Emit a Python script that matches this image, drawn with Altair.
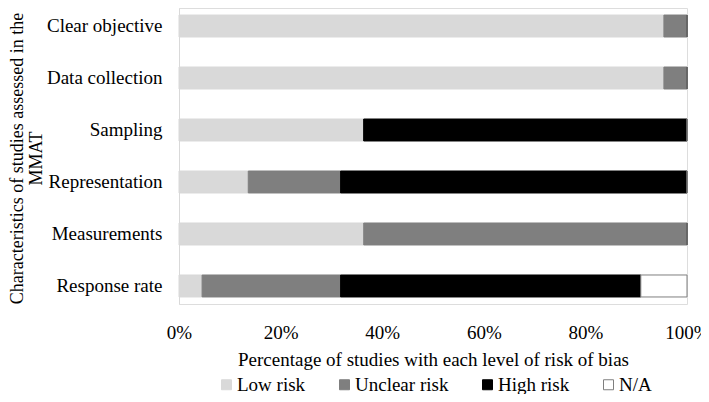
import altair as alt
import pandas as pd

categories = ["Clear objective", "Data collection", "Sampling", "Representation", "Measurements", "Response rate"]
levels = ["Low risk", "Unclear risk", "High risk", "N/A"]
# number of studies (of 22) at each level of risk of bias
low_risk = [21, 21, 8, 3, 8, 1]
unclear_risk = [1, 1, 0, 4, 14, 6]
high_risk = [0, 0, 14, 15, 0, 13]
not_applicable = [0, 0, 0, 0, 0, 2]

fills = ["#d9d9d9", "#7f7f7f", "#000000", "#ffffff"]
strokes = ["#d9d9d9", "#7f7f7f", "#000000", "#7f7f7f"]

rows = []
for i, c in enumerate(categories):
    for j, (lv, vals) in enumerate(zip(levels, [low_risk, unclear_risk, high_risk, not_applicable])):
        rows.append({"cat": c, "level": lv, "n": vals[i], "ord": j})
df = pd.DataFrame(rows)

FONT = "Liberation Serif"
FS = 19

legend_kw = dict(title=None, orient="none", direction="horizontal",
                 legendX=38, legendY=367, symbolType="square",
                 symbolSize=100, symbolStrokeWidth=1,
                 labelFontSize=FS, labelFont=FONT, labelColor="black",
                 columnPadding=29, labelOffset=1)

chart = alt.Chart(df).mark_bar(strokeWidth=1).encode(
    y=alt.Y("cat:N", sort=categories,
            scale=alt.Scale(paddingInner=0.577, paddingOuter=0.135),
            axis=alt.Axis(title=["Characteristics of studies assessed in the", "MMAT"],
                          titleFontSize=18, titleFontWeight="normal", titleColor="black",
                          titleFont=FONT, titleAngle=-90, titleBaseline="top",
                          titleAlign="center", titleX=-171, titleY=150, titleLineHeight=19,
                          labelFontSize=FS, labelColor="black", labelFont=FONT,
                          labelPadding=17, ticks=False, domain=True,
                          domainColor="#d9d9d9", domainWidth=1, grid=False)),
    x=alt.X("n:Q", stack="normalize",
            scale=alt.Scale(domain=[0, 1], nice=False),
            axis=alt.Axis(title="Percentage of studies with each level of risk of bias",
                          format=".0%", values=[0, 0.2, 0.4, 0.6, 0.8, 1.0],
                          titleFontSize=FS, titleFontWeight="normal", titleColor="black",
                          titleFont=FONT, titlePadding=8,
                          labelFontSize=FS, labelColor="black", labelFont=FONT,
                          labelPadding=19, ticks=False, domain=False, grid=False,
                          labelFlush=False)),
    color=alt.Color("level:N", sort=levels,
                    scale=alt.Scale(domain=levels, range=fills),
                    legend=alt.Legend(**legend_kw)),
    stroke=alt.Stroke("level:N", sort=levels,
                      scale=alt.Scale(domain=levels, range=strokes),
                      legend=alt.Legend(**legend_kw)),
    order=alt.Order("ord:Q", sort="ascending"),
).properties(
    width=508, height=296,
    autosize=alt.AutoSizeParams(type="none"),
    padding={"left": 171, "top": 0, "right": 14, "bottom": 90},
).configure_view(stroke=None).configure(font=FONT)

chart.save("out.html", embed_options={"renderer": "svg", "actions": False})
